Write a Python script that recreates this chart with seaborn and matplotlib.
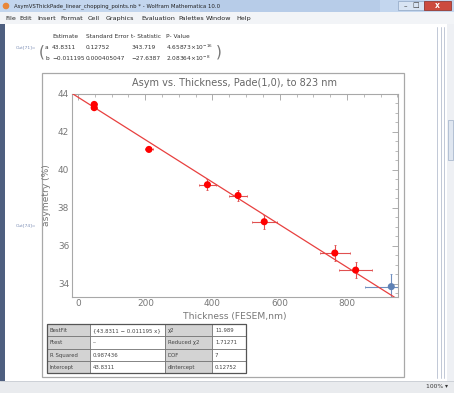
import numpy as np
import pandas as pd
import matplotlib
matplotlib.use("Agg")
import matplotlib.pyplot as plt
import seaborn as sns
from matplotlib.patches import Rectangle
from matplotlib.ticker import MultipleLocator

# ---------------- data ----------------
thickness = [48, 48, 211, 385, 476, 554, 764, 826, 932]
asymmetry = [43.45, 43.28, 41.08, 39.22, 38.65, 37.27, 35.62, 34.72, 33.85]
thick_err = [8, 8, 12, 24, 28, 37, 45, 50, 77]
asym_err = [0.08, 0.08, 0.10, 0.28, 0.28, 0.38, 0.40, 0.44, 0.69]
fitted = ["fit", "fit", "fit", "fit", "fit", "fit", "fit", "fit", "excluded"]

fit_intercept = 43.8311
fit_slope = -0.011195

est_header = ["Estimate", "Standard Error", "t- Statistic", "P- Value"]
est_row_a = ["a", "43.8311", "0.12752", "343.719", r"4.65873$\times$10$^{-16}$"]
est_row_b = ["b", "\u22120.011195", "0.000405047", "\u221227.6387", r"2.08364$\times$10$^{-8}$"]

stats_col1 = ["BestFit", "Ftest", "R Squared", "Intercept"]
stats_col2 = ["{43.8311 \u2212 0.011195 x}", "--", "0.987436", "43.8311"]
stats_col3 = ["\u03c72", "Reduced \u03c72", "DOF", "dIntercept"]
stats_col4 = ["11.989", "1.71271", "7", "0.12752"]

menu_items = ["File", "Edit", "Insert", "Format", "Cell", "Graphics",
              "Evaluation", "Palettes", "Window", "Help"]

# ---------------- figure ----------------
sns.set_style("white")
plt.rcParams["font.family"] = ["DejaVu Sans"]

W, H = 454, 393
fig = plt.figure(figsize=(W / 100, H / 100), dpi=100)
fig.patch.set_facecolor("white")

bg = fig.add_axes([0, 0, 1, 1])
bg.set_xlim(0, W)
bg.set_ylim(H, 0)
bg.axis("off")


def px_rect(x0, y0, x1, y1):
    return [x0 / W, 1 - y1 / H, (x1 - x0) / W, (y1 - y0) / H]


def rect(x0, y0, x1, y1, **kw):
    bg.add_patch(Rectangle((x0, y0), x1 - x0, y1 - y0, **kw))


# title bar
rect(0, 0, W, 12, facecolor="#c3d6ee", edgecolor="none")
rect(200, 0, 380, 12, facecolor="#b2c9e6", edgecolor="none", alpha=0.7)
bg.add_patch(plt.Circle((6, 6), 2.6, color="#e8873a"))
bg.text(14, 6.3, "AsymVSThickPade_linear_chopping_points.nb * - Wolfram Mathematica 10.0",
        fontsize=3.9, color="#222222", va="center", ha="left")
rect(398, 1, 424, 10, facecolor="#d8e4f3", edgecolor="#8fa6c4", lw=0.5)
bg.text(405, 6, "\u2013", fontsize=5, color="#333", ha="center", va="center")
bg.text(416, 5.5, "\u25a1", fontsize=5, color="#333", ha="center", va="center")
rect(424, 1, 451, 10, facecolor="#cc4b3e", edgecolor="#8a2a22", lw=0.5)
bg.text(437.5, 5.6, "x", fontsize=5.5, color="white", ha="center", va="center",
        fontweight="bold")

# menu bar
rect(0, 12, W, 24, facecolor="#f2f4f7", edgecolor="none")
menu_x = [5, 19, 37, 60, 88, 106, 141, 178, 206, 236]
for mx, item in zip(menu_x, menu_items):
    bg.text(mx, 18.5, item, fontsize=4.6, color="#222222", va="center", ha="left")

# window borders / right side
rect(0, 24, 5, 381, facecolor="#4e5f80", edgecolor="none")
rect(447, 24, W, 381, facecolor="#eef0f4", edgecolor="none")
for lx in [437, 440.5, 444]:
    bg.plot([lx, lx], [27, 378], color="#b7bfd0", lw=0.6)
rect(448, 120, 453, 160, facecolor="#dfe6f0", edgecolor="#9fb0c8", lw=0.5)

# status bar
rect(0, 381, W, H, facecolor="#e9ebee", edgecolor="none")
bg.plot([0, W], [381, 381], color="#c8ccd3", lw=0.6)
bg.text(426, 387, "100% \u25be", fontsize=4.3, color="#333", va="center", ha="left")

# estimate table at top
bg.text(16, 47, "Out[71]=", fontsize=3.2, color="#7b8db5", va="center", ha="left")
bg.text(39, 52, "(", fontsize=11, color="#777", va="center", ha="left")
bg.text(216, 52, ")", fontsize=11, color="#777", va="center", ha="left")
col_x = [45, 52, 86, 131, 166]
for cx, h in zip(col_x[1:], est_header):
    bg.text(cx, 36, h, fontsize=4.2, color="#333", va="center", ha="left")
for cx, v in zip(col_x, est_row_a):
    bg.text(cx, 47.5, v, fontsize=4.2, color="#333", va="center", ha="left")
for cx, v in zip(col_x, est_row_b):
    bg.text(cx, 58, v, fontsize=4.2, color="#333", va="center", ha="left")

# plot cell frame
bg.text(16, 225, "Out[74]=", fontsize=3.2, color="#7b8db5", va="center", ha="left")
rect(42, 72.5, 403.5, 377, facecolor="white", edgecolor="#a8a8a8", lw=0.9)

# stats table
tx = [47, 90, 165, 212, 246]
ty0, rh = 324, 12.25
cols = [stats_col1, stats_col2, stats_col3, stats_col4]
for r in range(4):
    for c in range(4):
        fc = "#d3d3d3" if c in (0, 2) else "white"
        rect(tx[c], ty0 + r * rh, tx[c + 1], ty0 + (r + 1) * rh,
             facecolor=fc, edgecolor="#6a6a6a", lw=0.5)
        bg.text(tx[c] + 3, ty0 + (r + 0.55) * rh, cols[c][r], fontsize=3.9,
                color="#444", va="center", ha="left")
rect(tx[0], ty0, tx[-1], ty0 + 4 * rh, facecolor="none", edgecolor="#555", lw=0.9)

# ---------------- the chart ----------------
df = pd.DataFrame({"thickness": thickness, "asymmetry": asymmetry,
                   "dx": thick_err, "dy": asym_err, "group": fitted})

ax = fig.add_axes(px_rect(72, 94, 398, 296.5))
ax.set_xlim(-18, 952)
ax.set_ylim(33.33, 44.0)

colors = {"fit": "#ff0000", "excluded": "#5e81b5"}
err_colors = {"fit": "#e05050", "excluded": "#6f8fbf"}
for g, sub in df.groupby("group"):
    ax.errorbar(sub["thickness"], sub["asymmetry"], xerr=sub["dx"], yerr=sub["dy"],
                fmt="none", ecolor=err_colors[g], elinewidth=0.8, capsize=1.0,
                capthick=0.6, zorder=2)

line_x = np.array([ax.get_xlim()[0], ax.get_xlim()[1]])
sns.lineplot(x=line_x, y=fit_intercept + fit_slope * line_x, ax=ax,
             color="#e8403f", lw=0.9, zorder=3)

sns.scatterplot(data=df, x="thickness", y="asymmetry", hue="group",
                palette=colors, s=26, edgecolor="none", legend=False, ax=ax,
                zorder=4)

ax.xaxis.set_major_locator(MultipleLocator(200))
ax.xaxis.set_minor_locator(MultipleLocator(50))
ax.yaxis.set_major_locator(MultipleLocator(2))
ax.yaxis.set_minor_locator(MultipleLocator(0.5))
ax.tick_params(which="both", direction="in", top=True, right=True,
               color="#a0a0a0", labelcolor="#777777", labelsize=6.4, pad=2)
ax.tick_params(which="major", length=4, width=0.6)
ax.tick_params(which="minor", length=2, width=0.5)
for s in ax.spines.values():
    s.set_color("#a8a8a8")
    s.set_linewidth(0.8)

ax.set_xlabel("Thickness (FESEM,nm)", fontsize=6.6, color="#777777", labelpad=3)
ax.set_ylabel("asymetry (%)", fontsize=6.6, color="#777777", labelpad=5)
ax.set_title("Asym vs. Thickness, Pade(1,0), to 823 nm", fontsize=7.0,
             color="#666666", pad=6)

fig.savefig("out.png", dpi=100)
